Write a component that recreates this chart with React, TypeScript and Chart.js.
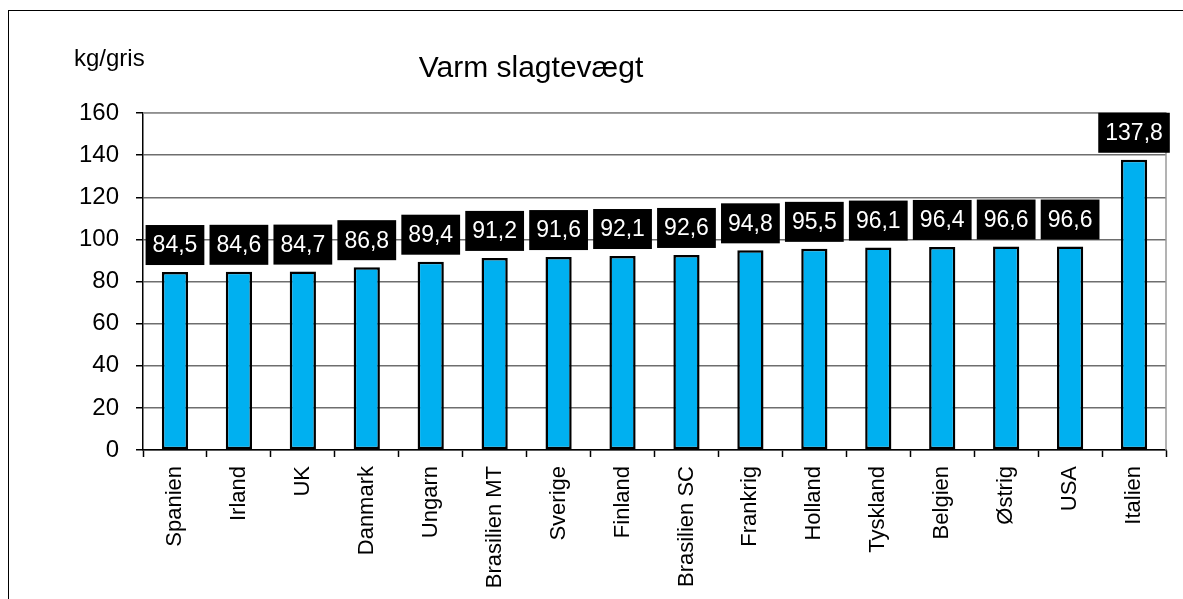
import React, { useEffect, useRef } from "react";
import { Chart, registerables } from "chart.js";

Chart.register(...registerables);

const categories = [
  "Spanien", "Irland", "UK", "Danmark", "Ungarn", "Brasilien MT", "Sverige", "Finland",
  "Brasilien SC", "Frankrig", "Holland", "Tyskland", "Belgien", "Østrig", "USA", "Italien",
];
const values = [84.5, 84.6, 84.7, 86.8, 89.4, 91.2, 91.6, 92.1, 92.6, 94.8, 95.5, 96.1, 96.4, 96.6, 96.6, 137.8];
const titleText = "Varm slagtevægt";
const unitText = "kg/gris";
const yMin = 0;
const yMax = 160;
const yStep = 20;

const FONT = "'Liberation Sans', Arial, sans-serif";

const decorPlugin = {
  id: "decor",
  beforeDatasetsDraw(chart: any) {
    const { ctx, chartArea } = chart;
    ctx.save();
    ctx.strokeStyle = "#9a9a9a";
    ctx.lineWidth = 1.5;
    ctx.beginPath();
    ctx.moveTo(chartArea.left, chartArea.top);
    ctx.lineTo(chartArea.right, chartArea.top);
    ctx.lineTo(chartArea.right, chartArea.bottom);
    ctx.stroke();
    ctx.restore();
  },
  afterDraw(chart: any) {
    const { ctx } = chart;
    ctx.save();
    ctx.fillStyle = "#000";
    ctx.font = `30px ${FONT}`;
    ctx.textAlign = "center";
    ctx.textBaseline = "alphabetic";
    ctx.fillText(titleText, 531, 77);
    ctx.font = `24px ${FONT}`;
    ctx.textAlign = "left";
    ctx.fillText(unitText, 74, 66);

    // data labels
    const meta = chart.getDatasetMeta(0);
    ctx.font = `23px ${FONT}`;
    meta.data.forEach((bar: any, i: number) => {
      const txt = values[i].toFixed(1).replace(".", ",");
      const w = ctx.measureText(txt).width + 14;
      const h = 40;
      const bottom = bar.y - 7;
      const x = bar.x - w / 2;
      ctx.fillStyle = "#000";
      ctx.fillRect(x, bottom - h, w, h);
      ctx.fillStyle = "#fff";
      ctx.textAlign = "center";
      ctx.textBaseline = "middle";
      ctx.fillText(txt, bar.x, bottom - h / 2 + 1);
    });
    ctx.restore();
  },
};

export default function App() {
  const ref = useRef<HTMLCanvasElement | null>(null);
  useEffect(() => {
    if (!ref.current) return;
    const chart = new Chart(ref.current, {
      type: "bar",
      data: {
        labels: categories,
        datasets: [
          {
            data: values,
            backgroundColor: "#00B0F0",
            borderColor: "#000",
            borderWidth: 2.5,
            borderSkipped: false,
            barPercentage: 0.41,
            categoryPercentage: 1,
          },
        ],
      },
      options: {
        animation: false,
        responsive: false,
        maintainAspectRatio: false,
        layout: { padding: { left: 0, right: 17, top: 113, bottom: 0 } },
        plugins: {
          legend: { display: false },
          title: { display: false },
          tooltip: { enabled: false },
        },
        scales: {
          x: {
            offset: true,
            grid: {
              offset: true,
              drawOnChartArea: false,
              drawTicks: true,
              tickLength: 7,
              tickColor: "#000",
              tickWidth: 1.5,
            },
            border: { display: true, color: "#000", width: 1.5 },
            ticks: {
              color: "#000",
              font: { family: FONT, size: 22 },
              maxRotation: 90,
              minRotation: 90,
              padding: 9,
              autoSkip: false,
            },
            afterFit: (scale: any) => {
              scale.height = 149;
            },
          },
          y: {
            min: yMin,
            max: yMax,
            ticks: {
              stepSize: yStep,
              color: "#000",
              font: { family: FONT, size: 24 },
              padding: 17,
            },
            grid: {
              color: "#6e6e6e",
              lineWidth: 1.5,
              tickLength: 7,
              tickColor: "#000",
            },
            border: { display: true, color: "#000", width: 1.5 },
            afterFit: (scale: any) => {
              scale.width = 143;
            },
          },
        },
      },
      plugins: [decorPlugin],
    });
    return () => chart.destroy();
  }, []);

  return (
    <div style={{ position: "absolute", left: 0, top: 0, width: 1183, height: 599, background: "#fff", overflow: "hidden" }}>
      <div
        style={{
          position: "absolute",
          left: 8,
          top: 10,
          width: 1200,
          height: 620,
          borderTop: "1.5px solid #000",
          borderLeft: "1.5px solid #000",
        }}
      />
      <canvas ref={ref} width={1183} height={599} style={{ position: "absolute", left: 0, top: 0 }} />
    </div>
  );
}
